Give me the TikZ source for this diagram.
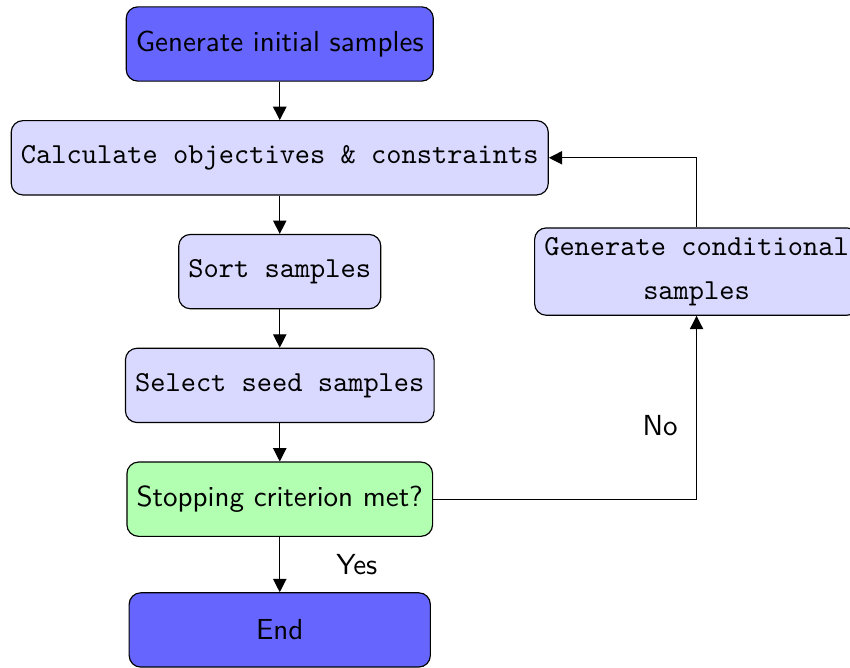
\documentclass[tikz,border=0pt]{standalone}
\usetikzlibrary{positioning, arrows.meta}

\begin{document}
\begin{tikzpicture}[
    node distance=0.465cm,
    startstop/.style={rectangle, rounded corners, draw=black, fill=blue!60, minimum height=0.9cm, font=\sffamily},
    process/.style={rectangle, rounded corners, draw=black, fill=blue!15, minimum height=0.9cm, font=\ttfamily},
    decision/.style={rectangle, rounded corners, draw=black, fill=green!30, minimum height=0.9cm, font=\sffamily},
    arrow/.style={thin, -{Triangle[length=4.6pt, width=4.6pt]}},
    lbl/.style={font=\sffamily}
]
    \useasboundingbox (0,0) rectangle (10.30,-8.085);

    % main column
    \node (init) [startstop] at (3.39,-0.533) {Generate initial samples};
    \node (calc) [process, below=of init] {Calculate objectives \& constraints};
    \node (sort) [process, below=of calc] {Sort samples};
    \node (select) [process, below=of sort] {Select seed samples};
    \node (stop) [decision, below=of select] {Stopping criterion met?};
    \node (end) [startstop, below=0.67cm of stop, minimum width=3.65cm] {End};

    % loop back
    \node (cond) [process, right=1.85cm of sort, align=center] {Generate conditional\\[3pt] samples};

    \draw [arrow] (init) -- (calc);
    \draw [arrow] (calc) -- (sort);
    \draw [arrow] (sort) -- (select);
    \draw [arrow] (select) -- (stop);
    \draw [arrow] (stop) -- node[lbl, right=16pt] {Yes} (end);
    \draw [arrow] (stop.east) -| node[lbl, pos=0.7, left=3pt] {No} (cond.south);
    \draw [arrow] (cond.north) |- (calc.east);
\end{tikzpicture}
\end{document}
